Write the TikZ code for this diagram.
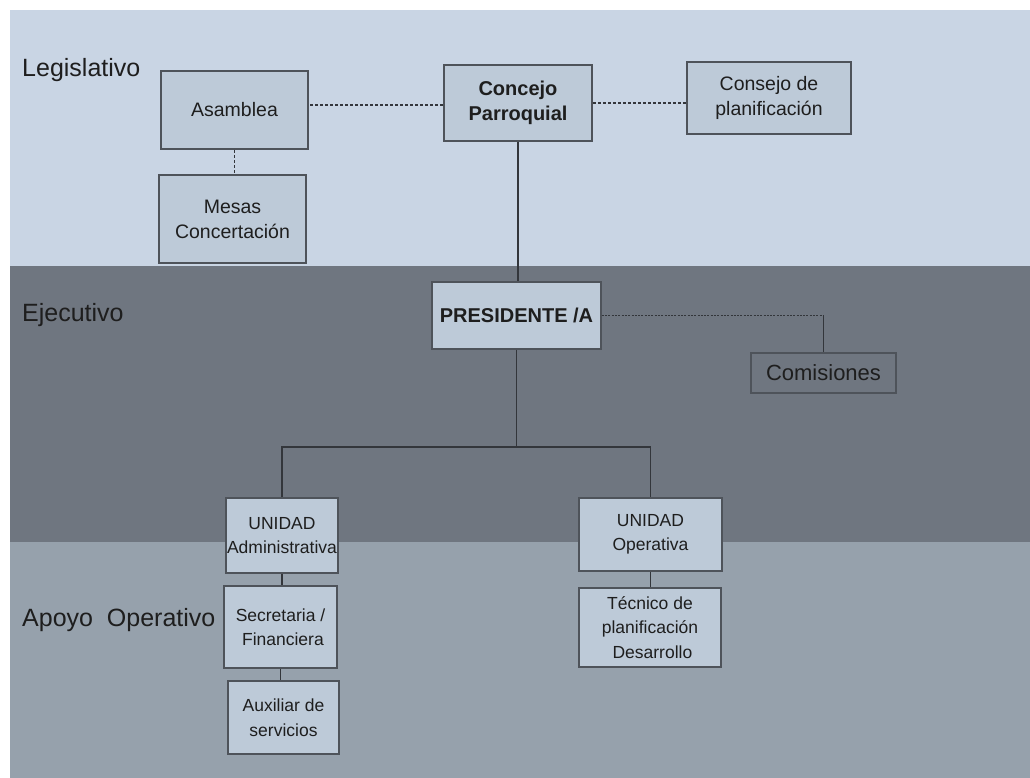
\documentclass[tikz,border=0pt]{standalone}
\usepackage{fontspec}
\setmainfont{Liberation Sans}
\usetikzlibrary{positioning,calc}
\definecolor{orgBandTop}{HTML}{C9D5E4}
\definecolor{orgBandMid}{HTML}{6F7680}
\definecolor{orgBandLow}{HTML}{96A1AC}
\definecolor{orgBoxFill}{HTML}{BDCAD8}
\definecolor{orgBoxLine}{HTML}{4E535A}
\definecolor{orgLink}{HTML}{33363B}
\definecolor{orgInk}{HTML}{1E1E1E}
\tikzset{
  org/base/.style={draw=orgBoxLine, line width=1.6pt, fill=orgBoxFill,
    align=center, text=orgInk, inner sep=1pt,
    font=\fontsize{19.5}{25}\selectfont},
  org/top/.style={org/base},
  org/head/.style={org/base, font=\fontsize{20}{25}\selectfont\bfseries},
  org/unit/.style={org/base, font=\fontsize{17.5}{24.5}\selectfont},
  org/open/.style={org/base, fill=none, font=\fontsize{22}{26}\selectfont},
  org/level/.style={text=orgInk, anchor=west, inner sep=0pt,
    font=\fontsize{25}{30}\selectfont},
  org/link/.style={draw=orgLink, line width=1.5pt},
  org/dashed/.style={org/link, dash pattern=on 3pt off 2pt},
  org/dotted/.style={org/link, line width=1.7pt, dash pattern=on 2pt off 1.3pt},
}
\begin{document}
\begin{tikzpicture}[x=1pt, y=-1pt]
\useasboundingbox (0,0) rectangle (1030,778);
% bands
\fill[white] (0,0) rectangle (1030,778);
\fill[orgBandTop] (10,10) rectangle (1030,266);
\fill[orgBandMid] (10,266) rectangle (1030,542);
\fill[orgBandLow] (10,542) rectangle (1030,778);

\node[org/level] (legislativo) at (22,70) {Legislativo};
\node[org/level] (ejecutivo) at (22,315) {Ejecutivo};
\node[org/level] (apoyo) at (22,620) {Apoyo\ \ Operativo};

% legislativo
\node[org/top, minimum width=147pt, minimum height=78pt] (asamblea) at (234.5,110) {Asamblea};
\node[org/top, minimum width=147pt, minimum height=88pt] (mesas) at (232.5,219) {Mesas\\Concertación};
\node[org/head, minimum width=148pt, minimum height=76pt] (concejo) at (518,103) {Concejo\\Parroquial};
\node[org/top, minimum width=164pt, minimum height=72pt] (consejo) at (769,98) {Consejo de\\planificación};

% ejecutivo
\node[org/head, minimum width=169pt, minimum height=67pt] (presidente) at (516.5,315.5) {PRESIDENTE /A};
\node[org/open, minimum width=145pt, minimum height=40pt] (comisiones) at (823.5,373) {Comisiones};

% apoyo operativo
\node[org/unit, minimum width=112pt, minimum height=75pt] (uadmin) at (282,535.5) {UNIDAD\\Administrativa};
\node[org/unit, minimum width=113pt, minimum height=82pt] (secretaria) at (280.5,627) {Secretaria /\\\ Financiera};
\node[org/unit, minimum width=111pt, minimum height=73pt] (auxiliar) at (283.5,717.5) {Auxiliar de\\servicios};
\node[org/unit, minimum width=143pt, minimum height=73pt] (uoper) at (650.5,534.5) {UNIDAD\\Operativa};
\node[org/unit, minimum width=142pt, minimum height=79pt] (tecnico) at (650,627.5) {Técnico de\\planificación\\\ Desarrollo};

\coordinate (fork) at ($(presidente.south)+(0,97)$);
\coordinate (knee) at (presidente.east -| comisiones.north);

\draw[org/dashed] (concejo.west |- 0,105) -- (asamblea.east |- 0,105);
\draw[org/dashed] (concejo.east) -- (concejo.east -| consejo.west);
\draw[org/dashed] (asamblea.south) -- (asamblea.south |- mesas.north);
\draw[org/link] (concejo.south) -- (concejo.south |- presidente.north);
\draw[org/dotted] (presidente.east) -- (knee);
\draw[org/link] (knee) -- (comisiones.north);
\draw[org/link] (presidente.south) -- (fork);
\draw[org/link] (uadmin.north) |- (fork) -| (uoper.north);
\draw[org/link] (uadmin.south) -- (uadmin.south |- secretaria.north);
\draw[org/link] (secretaria.south) -- (secretaria.south |- auxiliar.north);
\draw[org/link] (uoper.south) -- (uoper.south |- tecnico.north);
\end{tikzpicture}
\end{document}
